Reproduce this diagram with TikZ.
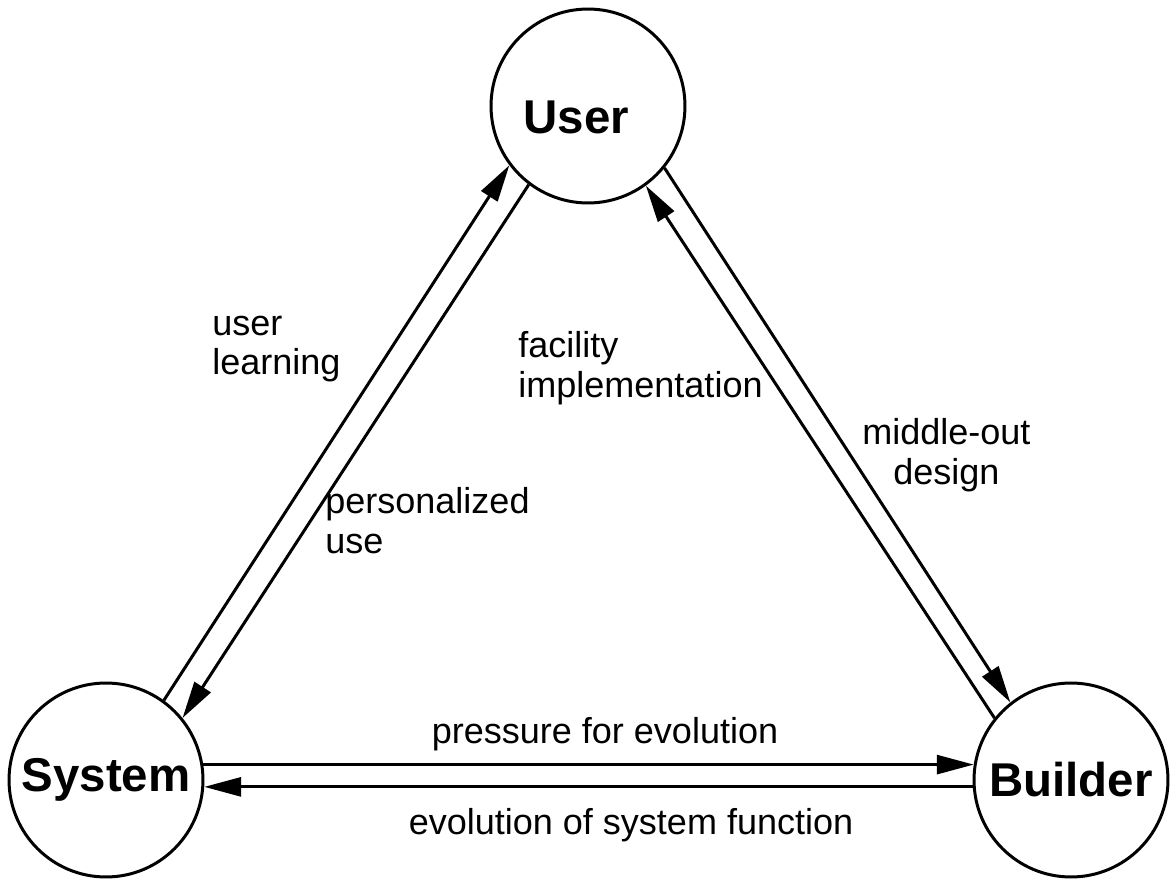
\documentclass[tikz,border=0pt]{standalone}
\usepackage{fontspec}
\setmainfont{Liberation Sans}
\usetikzlibrary{arrows.meta}

\begin{document}
\begin{tikzpicture}[
      x=0.02cm, y=-0.02cm,
      every node/.style={font=\fontsize{20.5}{22.7}\selectfont},
      party/.style={draw, circle, line width=1.7pt, minimum size=3.88cm, inner sep=0pt,
                    font=\fontsize{27}{30}\selectfont\bfseries},
      flow/.style={->, line width=1.7pt},
      note/.style={inner sep=0pt, align=#1},
      note/.default=left,
      >={Triangle[length=0.74cm, width=0.38cm]},
    ]
    \useasboundingbox (0,0) rectangle (1171,879);

    % the three parties
    \node[party, text height=31.8pt, text depth=0pt] (usr) at (588, 106) {User\hspace*{0.5em}};
    \node[party] (sys) at (106, 780) {System};
    \node[party] (bld) at (1071, 780) {Builder};

    % user <-> system
    \draw[flow] (sys.54) -- (usr.217);
    \draw[flow] (usr.233) -- (sys.39);
    % user <-> builder
    \draw[flow] (bld.141) -- (usr.306.5);
    \draw[flow] (usr.321) -- (bld.128);
    % system <-> builder
    \draw[flow] (sys.9) -- (bld.171);
    \draw[flow] (bld.184) -- (sys.-4);

    \node[note, anchor=west] (learn) at (212, 349) {user\\learning};
    \node[note, anchor=west] (facil) at (518, 368) {facility\\implementation};
    \node[note=center, anchor=west] (midout) at (862, 455) {middle-out\\design};
    \node[note, anchor=west] (persn) at (325, 521) {personalized\\use};
    \node[note, anchor=base] (press) at (605, 743) {pressure for evolution};
    \node[note, anchor=base] (evol) at (631, 834) {evolution of system function};
  \end{tikzpicture}
\end{document}
